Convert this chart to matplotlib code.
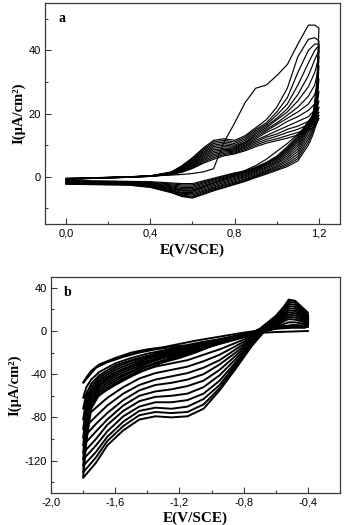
import numpy as np
import matplotlib
matplotlib.use("Agg")
import matplotlib.pyplot as plt
from matplotlib.ticker import MultipleLocator, FuncFormatter

plt.rcParams["axes.unicode_minus"] = False

# ---- panel a : potential grids (V/SCE) ----
a_E_fwd = [0.0, 0.1, 0.2, 0.3, 0.4, 0.5, 0.55, 0.6, 0.65, 0.7, 0.75, 0.8, 0.85,
           0.9, 0.95, 1.0, 1.05, 1.1, 1.15, 1.18, 1.2]
a_E_rev = [1.2, 1.19, 1.17, 1.15, 1.1, 1.05, 1.0, 0.95, 0.9, 0.85, 0.8, 0.7,
           0.6, 0.55, 0.5, 0.4, 0.3, 0.2, 0.1, 0.0]

# anodic sweeps, one row per cycle (uA/cm2)
a_fwd = [
    [-0.5, -0.4, -0.2, 0, 0.2, 0.5, 0.7, 1, 1.5, 2.5, 11, 17, 23.5, 28, 29, 32, 35.5, 42, 48, 48, 47],
    [-0.6, -0.4, -0.25, -0.05, 0.25, 1.5, 3.5, 6, 9, 11.5, 12, 11.5, 13, 15.5, 18, 22, 28, 38, 43.5, 44, 43],
    [-0.6, -0.45, -0.25, -0.05, 0.25, 1.4, 3.2, 5.7, 8.6, 11, 11.5, 11, 12.5, 15, 17, 20.5, 25, 33, 40, 42, 42],
    [-0.65, -0.45, -0.25, -0.05, 0.25, 1.3, 3, 5.4, 8.2, 10.5, 11, 10.5, 12, 14.5, 16.5, 19.5, 23, 29, 36, 40, 41.5],
    [-0.65, -0.45, -0.3, -0.1, 0.2, 1.2, 2.8, 5.1, 7.8, 10, 10.5, 10, 11.5, 14, 16, 18.5, 21.5, 26, 32, 37, 40],
    [-0.7, -0.5, -0.3, -0.1, 0.2, 1.1, 2.6, 4.8, 7.4, 9.5, 10, 9.6, 11, 13.5, 15.5, 18, 20.5, 24, 28.5, 33, 38],
    [-0.7, -0.5, -0.3, -0.1, 0.2, 1.0, 2.4, 4.5, 7, 9, 9.5, 9.3, 10.7, 13, 15, 17, 19.5, 22, 25.5, 29, 35],
    [-0.7, -0.5, -0.3, -0.1, 0.2, 1.0, 2.2, 4.2, 6.6, 8.5, 9, 9, 10.4, 12.5, 14.5, 16.5, 18.5, 20.5, 23, 26, 31],
    [-0.75, -0.55, -0.35, -0.15, 0.15, 0.9, 2.0, 3.9, 6.2, 8, 8.6, 8.7, 10, 12, 14, 15.5, 17.5, 19, 21, 23, 27],
    [-0.75, -0.55, -0.35, -0.15, 0.15, 0.9, 1.8, 3.6, 5.8, 7.5, 8.2, 8.4, 9.7, 11.5, 13, 14.5, 16, 17.5, 19, 21, 24],
    [-0.8, -0.55, -0.35, -0.15, 0.15, 0.8, 1.7, 3.3, 5.4, 7, 7.8, 8.1, 9.4, 11, 12.5, 13.5, 15, 16, 17.5, 19, 22],
    [-0.8, -0.6, -0.4, -0.2, 0.1, 0.8, 1.6, 3, 5, 6.5, 7.4, 7.8, 9, 10.5, 11.8, 12.8, 14, 15, 16.5, 18, 20.5],
    [-0.85, -0.6, -0.4, -0.2, 0.1, 0.7, 1.5, 2.8, 4.6, 6, 7, 7.5, 8.6, 10, 11.2, 12, 13, 14, 15.5, 17, 19.5],
    [-0.85, -0.6, -0.4, -0.2, 0.1, 0.7, 1.4, 2.6, 4.2, 5.5, 6.6, 7.2, 8.2, 9.5, 10.6, 11.4, 12.2, 13.2, 14.5, 16, 18.5],
]
# cathodic sweeps back to 0 V
a_rev = [
    [47, 30, 18, 15.5, 13.5, 10.5, 8, 5.5, 3.5, 2, 0.5, -2, -4.5, -4.3, -3.5, -2.4, -2, -1.9, -1.9, -1.9],
    [43, 26, 19.5, 17.5, 13, 9.5, 6.5, 4.5, 3, 1.8, 1.2, -0.5, -2.2, -2.2, -2, -1.6, -1.5, -1.4, -1.3, -1.2],
    [42, 25, 19.5, 17.3, 12.5, 9, 6.2, 4.3, 2.8, 1.6, 1, -0.8, -2.6, -2.6, -2.3, -1.8, -1.6, -1.5, -1.4, -1.3],
    [41.5, 24, 19, 17, 12, 8.6, 5.9, 4.1, 2.6, 1.4, 0.7, -1.1, -3, -3, -2.6, -2, -1.7, -1.6, -1.5, -1.4],
    [40, 23.5, 19, 16.6, 11.5, 8.2, 5.6, 3.8, 2.4, 1.2, 0.4, -1.4, -3.4, -3.4, -2.9, -2.2, -1.8, -1.7, -1.6, -1.5],
    [38, 23, 18.5, 16.2, 11, 7.7, 5.2, 3.5, 2.1, 0.9, 0.1, -1.8, -3.8, -3.8, -3.2, -2.4, -1.9, -1.8, -1.7, -1.6],
    [35, 22.5, 18, 15.8, 10.3, 7.2, 4.8, 3.1, 1.8, 0.6, -0.2, -2.1, -4.2, -4.2, -3.5, -2.6, -2.0, -1.9, -1.8, -1.7],
    [31, 22, 17.5, 15.4, 9.6, 6.6, 4.4, 2.8, 1.5, 0.3, -0.6, -2.5, -4.6, -4.6, -3.8, -2.7, -2.1, -2.0, -1.9, -1.8],
    [27, 21.5, 17, 14.8, 8.8, 6, 4, 2.4, 1.2, 0, -0.9, -2.9, -5, -5, -4.1, -2.9, -2.2, -2.1, -2.0, -1.9],
    [24, 21, 16.5, 14, 8, 5.4, 3.5, 2, 0.8, -0.3, -1.3, -3.3, -5.4, -5.3, -4.3, -3, -2.3, -2.2, -2.1, -2.0],
    [22, 20, 15.5, 13, 7.2, 4.8, 3.1, 1.7, 0.5, -0.7, -1.7, -3.6, -5.8, -5.6, -4.5, -3.1, -2.4, -2.3, -2.2, -2.1],
    [20.5, 19, 14.8, 12, 6.4, 4.2, 2.7, 1.4, 0.2, -1, -2, -3.9, -6.2, -5.9, -4.7, -3.2, -2.5, -2.4, -2.3, -2.2],
    [19.5, 18, 14, 11, 5.7, 3.7, 2.3, 1.1, 0, -1.3, -2.3, -4.2, -6.5, -6.1, -4.9, -3.3, -2.6, -2.5, -2.4, -2.3],
    [18.5, 17, 13, 10, 5, 3.2, 2, 0.8, -0.3, -1.5, -2.5, -4.5, -6.8, -6.3, -5.1, -3.4, -2.7, -2.6, -2.5, -2.4],
]

# ---- panel b ----
b_E_fwd = [-0.4, -0.42, -0.5, -0.6, -0.67, -0.75, -0.85, -0.95, -1.05, -1.15, -1.25,
           -1.35, -1.45, -1.55, -1.65, -1.72, -1.8]
b_E_rev = [-1.8, -1.78, -1.75, -1.7, -1.6, -1.5, -1.4, -1.3, -1.2, -1.1, -1.0, -0.9,
           -0.8, -0.7, -0.6, -0.55, -0.52, -0.48, -0.44, -0.4]

b_fwd = [
    [0, -0.1, -0.5, -1, -1.5, -3, -5, -8, -10, -13, -15, -17, -20, -24, -29, -34, -48],
    [4, 3, 3, 2, 0, -4, -8, -12, -16, -20, -23, -26, -30, -36, -44, -52, -62],
    [6, 3.5, 3.5, 2.5, 0, -5, -11, -17, -22, -27, -30, -33, -38, -45, -54, -62, -72],
    [7, 3.5, 4, 2.5, 0, -6, -14, -22, -28, -33, -36, -39, -44, -52, -62, -71, -82],
    [8, 4, 4, 3, 0, -7, -17, -27, -34, -39, -42, -45, -50, -58, -69, -79, -91],
    [9, 4, 4.5, 3, 0, -8, -20, -31, -40, -45, -48, -50, -55, -64, -76, -86, -99],
    [10, 4, 4.5, 3, 0, -9, -23, -36, -46, -51, -54, -56, -60, -69, -82, -93, -106],
    [11, 4.5, 5, 3, 0, -10, -26, -41, -52, -58, -60, -61, -65, -74, -87, -100, -113],
    [12, 4.5, 5, 3, 0, -11, -29, -46, -58, -64, -66, -66, -70, -79, -93, -106, -119],
    [13, 4.5, 5, 3, 0, -12, -31, -50, -63, -70, -72, -71, -74, -84, -98, -112, -125],
    [14, 5, 5, 3, 0, -13, -33, -53, -68, -75, -76, -75, -78, -88, -102, -117, -131],
    [15, 5, 5, 3, 0, -14, -35, -55, -72, -79, -80, -79, -82, -92, -106, -122, -136],
]
b_rev = [
    [-48, -43, -37, -31, -25, -20, -17, -15, -12, -9, -6.5, -4, -1.5, 0.5, 3, 4.5, 5, 5, 4.5, 4],
    [-62, -52, -45, -38, -30, -25, -21, -18, -15, -12, -9, -6, -3, 0, 4, 6.5, 8, 8, 7, 6],
    [-72, -58, -49, -41, -32, -27, -23, -19, -16, -13, -10, -6.5, -3, 0.5, 5, 9, 11, 10.5, 9, 7],
    [-82, -63, -52, -43, -34, -28, -24, -20, -17, -14, -10, -7, -3.5, 0.5, 6, 10.5, 13, 12.5, 10.5, 8],
    [-91, -68, -55, -45, -36, -30, -25, -21, -18, -15, -11, -7, -3.5, 0.5, 7, 12, 15, 14.5, 12, 9],
    [-99, -73, -57, -47, -38, -32, -26, -22, -19, -15, -11, -7.5, -4, 1, 8, 13.5, 17, 16.5, 13.5, 10],
    [-106, -78, -60, -49, -40, -33, -28, -23, -20, -16, -12, -8, -4, 1, 9, 15, 19, 18.5, 15, 11],
    [-113, -83, -62, -51, -42, -35, -29, -24, -21, -17, -12, -8, -4, 1, 10, 16.5, 21, 20.5, 16.5, 12],
    [-119, -88, -65, -53, -44, -37, -30, -25, -22, -18, -13, -8.5, -4.5, 1.5, 11, 18, 23, 22.5, 18, 13],
    [-125, -93, -67, -55, -46, -38, -32, -27, -23, -19, -13, -9, -4.5, 1.5, 12, 19.5, 25, 24.5, 19.5, 14],
    [-131, -98, -70, -57, -48, -40, -33, -28, -24, -19, -14, -9, -5, 1.5, 13, 21, 27, 26.5, 21, 15],
    [-136, -103, -72, -59, -50, -42, -35, -29, -25, -20, -14, -9.5, -5, 2, 14, 22.5, 29, 28, 22.5, 17],
]

a_xticks = [0.0, 0.4, 0.8, 1.2]
a_yticks = [0, 20, 40]
b_xticks = [-2.0, -1.6, -1.2, -0.8, -0.4]
b_yticks = [-120, -80, -40, 0, 40]

TICKFONT = "Liberation Sans"
LABFONT = "Liberation Serif"


def comma(v, pos=None):
    return ("%.1f" % v).replace(".", ",")


def style(ax, xmaj, xmin, ymaj, ymin):
    for s in ax.spines.values():
        s.set_color("#3a3a3a")
        s.set_linewidth(0.9)
    ax.xaxis.set_major_locator(MultipleLocator(xmaj))
    ax.xaxis.set_minor_locator(MultipleLocator(xmin))
    ax.yaxis.set_major_locator(MultipleLocator(ymaj))
    ax.yaxis.set_minor_locator(MultipleLocator(ymin))
    ax.tick_params(which="both", direction="in", top=False, right=False,
                   color="#3a3a3a", width=0.8)
    ax.tick_params(which="major", length=4, labelsize=8, pad=3)
    ax.tick_params(which="minor", length=2.5)
    ax.xaxis.set_major_formatter(FuncFormatter(comma))
    ax.yaxis.set_major_formatter(FuncFormatter(lambda v, p: "%d" % v))


fig = plt.figure(figsize=(3.48, 5.25), dpi=100)

# panel a
ax1 = fig.add_axes([0.1293, 0.5733, 0.8477, 0.421])
for f, r in zip(a_fwd, a_rev):
    ax1.plot(a_E_fwd + a_E_rev, f + r, color="black", lw=0.85,
             solid_joinstyle="round")
ax1.set_xlim(-0.1, 1.3)
ax1.set_ylim(-15, 55)
style(ax1, 0.4, 0.2, 20, 10)
ax1.set_xticks(a_xticks)
ax1.set_yticks(a_yticks)
ax1.set_xlabel("E(V/SCE)", fontfamily=LABFONT, fontweight="bold", fontsize=11, labelpad=4)
ax1.set_ylabel("I(μA/cm²)", fontfamily=LABFONT, fontweight="bold", fontsize=10.5, labelpad=2)
ax1.text(0.058, 0.932, "a", transform=ax1.transAxes, fontfamily=LABFONT,
         fontweight="bold", fontsize=10, ha="center", va="center")

# panel b
ax2 = fig.add_axes([0.1466, 0.0610, 0.8305, 0.4114])
for f, r in zip(b_fwd, b_rev):
    ax2.plot(b_E_fwd + b_E_rev, f + r, color="black", lw=1.4,
             solid_joinstyle="round")
ax2.set_xlim(-2.0, -0.2)
ax2.set_ylim(-150, 50)
style(ax2, 0.4, 0.2, 40, 20)
ax2.set_xticks(b_xticks)
ax2.set_yticks(b_yticks)
ax2.set_xlabel("E(V/SCE)", fontfamily=LABFONT, fontweight="bold", fontsize=11, labelpad=3)
ax2.set_ylabel("I(μA/cm²)", fontfamily=LABFONT, fontweight="bold", fontsize=10.5, labelpad=2)
ax2.text(0.059, 0.926, "b", transform=ax2.transAxes, fontfamily=LABFONT,
         fontweight="bold", fontsize=10, ha="center", va="center")

for ax in (ax1, ax2):
    for lab in ax.get_xticklabels() + ax.get_yticklabels():
        lab.set_fontfamily(TICKFONT)

fig.savefig("out.png", dpi=100)
